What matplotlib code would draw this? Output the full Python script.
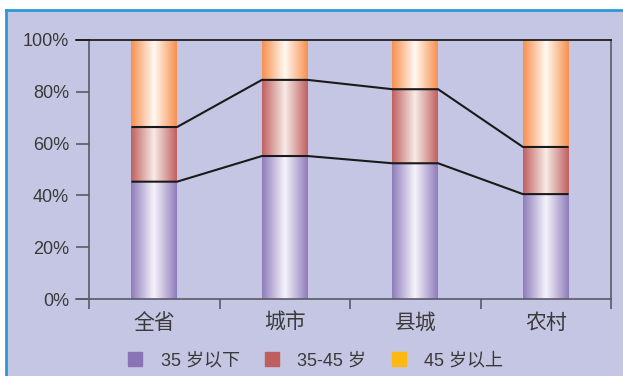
import numpy as np
import matplotlib
matplotlib.use("Agg")
import matplotlib.pyplot as plt
from matplotlib.colors import LinearSegmentedColormap
from matplotlib.lines import Line2D
from matplotlib.patches import Rectangle

plt.rcParams['font.family'] = ['Liberation Sans', 'Noto Sans CJK SC']

# age structure by area (percent)
categories = ["全省", "城市", "县城", "农村"]
series_names = ["35 岁以下", "35-45 岁", "45 岁以上"]
under35 = [45.3, 55.2, 52.4, 40.5]
mid35_45 = [21.1, 29.4, 28.6, 18.2]
over45 = [33.6, 15.4, 19.0, 41.3]
yticks = [0, 20, 40, 60, 80, 100]

legend_colors = ["#8B74B6", "#BE5E5E", "#FDB813"]
edge_colors = ["#8E7CBA", "#C06060", "#F88F4E"]
mid_colors = ["#F6F3FB", "#F7EBE6", "#FFF9F2"]

bg = "#C5C6E3"
text_c = "#3A3A3A"
axis_c = "#5A5A66"

fig = plt.figure(figsize=(6.23, 3.76), dpi=100, facecolor="white")

# lavender panel with a blue border on top and left
fig.patches.append(Rectangle((5.5 / 623, 0), 1, 1 - 9.5 / 376, transform=fig.transFigure,
                             facecolor=bg, edgecolor="none", zorder=-10))
fig.add_artist(Line2D([5.5 / 623, 1], [1 - 9.5 / 376] * 2, transform=fig.transFigure,
                      color="#2A9AD6", lw=2, zorder=-5))
fig.add_artist(Line2D([5.5 / 623] * 2, [0, 1 - 9.5 / 376], transform=fig.transFigure,
                      color="#2A9AD6", lw=2, zorder=-5))

ax = fig.add_axes([89 / 623, 77 / 376, 522 / 623, 259 / 376])
ax.set_zorder(1)
ax.set_facecolor("none")

x = np.arange(len(categories))
w = 0.35
bottoms = np.zeros(len(categories))
grad = np.linspace(0, 1, 256).reshape(1, -1)

for vals, edge, mid in zip([under35, mid35_45, over45], edge_colors, mid_colors):
    cmap = LinearSegmentedColormap.from_list("g", [(0, edge), (0.5, mid), (1, edge)])
    bars = ax.bar(x, vals, width=w, bottom=bottoms, color=edge, linewidth=0, zorder=2)
    for p in bars:
        x0, y0 = p.get_x(), p.get_y()
        im = ax.imshow(grad, cmap=cmap, aspect="auto", zorder=2.1,
                       extent=(x0, x0 + p.get_width(), y0, y0 + p.get_height()))
        im.set_clip_path(p)
    bottoms += np.array(vals)

# series lines joining the segment tops
for level in [np.array(under35), np.array(under35) + np.array(mid35_45)]:
    xs, ys = [], []
    for xi, v in zip(x, level):
        xs += [xi - w / 2, xi + w / 2]
        ys += [v, v]
    ax.plot(xs, ys, color="#1A1A1A", lw=1.5, zorder=3, solid_capstyle="butt")

ax.set_xlim(-0.5, len(categories) - 0.5)
ax.set_ylim(0, 100)

ax.set_yticks(yticks)
ax.set_yticklabels([f"{t}%" for t in yticks], fontsize=13, color=text_c)
ax.tick_params(axis="y", direction="out", length=9.4, width=1.2, color=axis_c, pad=5)

ax.set_xticks(np.arange(-0.5, len(categories)), minor=False)
ax.set_xticklabels([])
ax.set_xticks(x, minor=True)
ax.set_xticklabels(categories, minor=True, fontsize=15, color=text_c)
ax.tick_params(axis="x", which="major", direction="out", length=7.5, width=1.2, color=axis_c)
ax.tick_params(axis="x", which="minor", length=0, pad=10)

for side in ["left", "bottom", "right"]:
    ax.spines[side].set_color(axis_c)
    ax.spines[side].set_linewidth(1.2)
ax.spines["top"].set_color("#111111")
ax.spines["top"].set_linewidth(1.2)

# baseline and top line run past the left axis
ax.axhline(0, xmin=-0.025, xmax=0, color=axis_c, lw=1.2, clip_on=False)
ax.axhline(100, xmin=-0.025, xmax=0, color="#111111", lw=1.2, clip_on=False)

handles = [Line2D([], [], marker="s", linestyle="none", markersize=9.5,
                  markerfacecolor=c, markeredgecolor=c) for c in legend_colors]
fig.legend(handles, series_names, loc="center", bbox_to_anchor=(0.505, 15 / 376),
           ncol=3, frameon=False, fontsize=13, handletextpad=0.9, columnspacing=1.3,
           labelcolor=text_c, handlelength=1.0)

fig.savefig("out.png", dpi=100, facecolor=fig.get_facecolor())
